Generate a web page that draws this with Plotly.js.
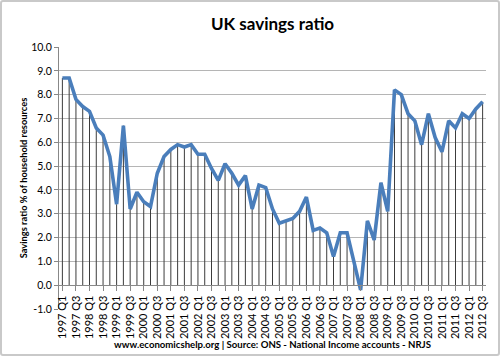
<!DOCTYPE html>
<html>
<head>
<meta charset="utf-8">
<script src="https://cdn.plot.ly/plotly-3.0.1.min.js"></script>
<style>
  html, body { margin: 0; padding: 0; background: #fff; }
  #wrap { position: relative; width: 500px; height: 356px; }
  #chart { width: 500px; height: 356px; }
  #frame { position: absolute; left: 0; top: 0; width: 500px; height: 356px; box-sizing: border-box;
           border: 2px solid #c9c9c9; border-radius: 3px; pointer-events: none; }
</style>
</head>
<body>
<div id="wrap"><div id="chart"></div><div id="frame"></div></div>
<script>
const quarters = [
  "1997 Q1","1997 Q2","1997 Q3","1997 Q4",
  "1998 Q1","1998 Q2","1998 Q3","1998 Q4",
  "1999 Q1","1999 Q2","1999 Q3","1999 Q4",
  "2000 Q1","2000 Q2","2000 Q3","2000 Q4",
  "2001 Q1","2001 Q2","2001 Q3","2001 Q4",
  "2002 Q1","2002 Q2","2002 Q3","2002 Q4",
  "2003 Q1","2003 Q2","2003 Q3","2003 Q4",
  "2004 Q1","2004 Q2","2004 Q3","2004 Q4",
  "2005 Q1","2005 Q2","2005 Q3","2005 Q4",
  "2006 Q1","2006 Q2","2006 Q3","2006 Q4",
  "2007 Q1","2007 Q2","2007 Q3","2007 Q4",
  "2008 Q1","2008 Q2","2008 Q3","2008 Q4",
  "2009 Q1","2009 Q2","2009 Q3","2009 Q4",
  "2010 Q1","2010 Q2","2010 Q3","2010 Q4",
  "2011 Q1","2011 Q2","2011 Q3","2011 Q4",
  "2012 Q1","2012 Q2","2012 Q3"
];

const savingsRatio = [
  8.7, 8.7, 7.8, 7.5,
  7.3, 6.6, 6.3, 5.4,
  3.4, 6.7, 3.2, 3.9,
  3.5, 3.3, 4.7, 5.4,
  5.7, 5.9, 5.8, 5.9,
  5.5, 5.5, 4.9, 4.4,
  5.1, 4.7, 4.2, 4.6,
  3.2, 4.2, 4.1, 3.2,
  2.6, 2.7, 2.8, 3.1,
  3.7, 2.3, 2.4, 2.2,
  1.2, 2.2, 2.2, 1.0,
  -0.2, 2.7, 1.9, 4.3,
  3.1, 8.2, 8.0, 7.2,
  6.9, 5.9, 7.2, 6.2,
  5.6, 6.9, 6.6, 7.2,
  7.0, 7.4, 7.7
];

const tickLabels = quarters.filter((q, i) => i % 2 === 0);

const yTickVals = [-1, 0, 1, 2, 3, 4, 5, 6, 7, 8, 9, 10];
const yTickText = ["-1.0","0.0","1.0","2.0","3.0","4.0","5.0","6.0","7.0","8.0","9.0","10.0"];

const titleText = "UK savings ratio";
const yTitleText = "Savings ratio % of household resources";
const xTitleText = "www.economicshelp.org | Source: ONS - National Income accounts - NRJS";

// drop lines from the category axis (0) to each data point
const dropX = [], dropY = [];
quarters.forEach((q, i) => {
  dropX.push(q, q, null);
  dropY.push(0, savingsRatio[i], null);
});

const FONT = "Lato, 'Open Sans', 'Liberation Sans', sans-serif";

const traces = [
  {
    type: "scatter", mode: "lines", x: dropX, y: dropY,
    line: { color: "#3c3c3c", width: 1 },
    hoverinfo: "skip", showlegend: false
  },
  {
    type: "scatter", mode: "lines", x: quarters, y: savingsRatio,
    line: { color: "#4a7ebb", width: 3.6, shape: "linear" },
    showlegend: false
  }
];

const yMin = -1, yMax = 10;

const layout = {
  width: 500, height: 356,
  margin: { l: 59, r: 14, t: 47, b: 47, pad: 0 },
  paper_bgcolor: "#ffffff", plot_bgcolor: "#ffffff",
  font: { family: FONT, color: "#000" },
  title: {
    text: "<b>" + titleText + "</b>",
    x: 0.5, xref: "paper", xanchor: "center",
    y: 1 - 24 / 356, yref: "container", yanchor: "middle",
    font: { family: FONT, size: 17, color: "#000" }
  },
  xaxis: {
    type: "category",
    categoryorder: "array", categoryarray: quarters,
    range: [-0.5, quarters.length - 0.5],
    tickmode: "array", tickvals: tickLabels, ticktext: tickLabels,
    tickangle: -90,
    tickfont: { family: FONT, size: 11, color: "#000" },
    ticks: "outside", ticklen: 5, tickcolor: "#888", tickwidth: 1,
    showgrid: false, zeroline: false,
    showline: true, linecolor: "#888", linewidth: 1,
    anchor: "free", position: (0 - yMin) / (yMax - yMin),
    title: {
      text: "<b>" + xTitleText + "</b>",
      font: { family: FONT, size: 9.6, color: "#000" },
      standoff: 3
    },
    fixedrange: true
  },
  yaxis: {
    range: [yMin, yMax],
    tickmode: "array", tickvals: yTickVals, ticktext: yTickText,
    tickfont: { family: FONT, size: 10.5, color: "#000" },
    ticks: "outside", ticklen: 4, tickcolor: "#888", tickwidth: 1,
    showgrid: true, gridcolor: "#b5b5b5", gridwidth: 1,
    zeroline: false,
    showline: true, linecolor: "#888", linewidth: 1,
    title: {
      text: "<b>" + yTitleText + "</b>",
      font: { family: FONT, size: 9.3, color: "#000" },
      standoff: 1
    },
    fixedrange: true
  },
  showlegend: false
};

Plotly.newPlot("chart", traces, layout, { displayModeBar: false, staticPlot: true });
</script>
</body>
</html>
